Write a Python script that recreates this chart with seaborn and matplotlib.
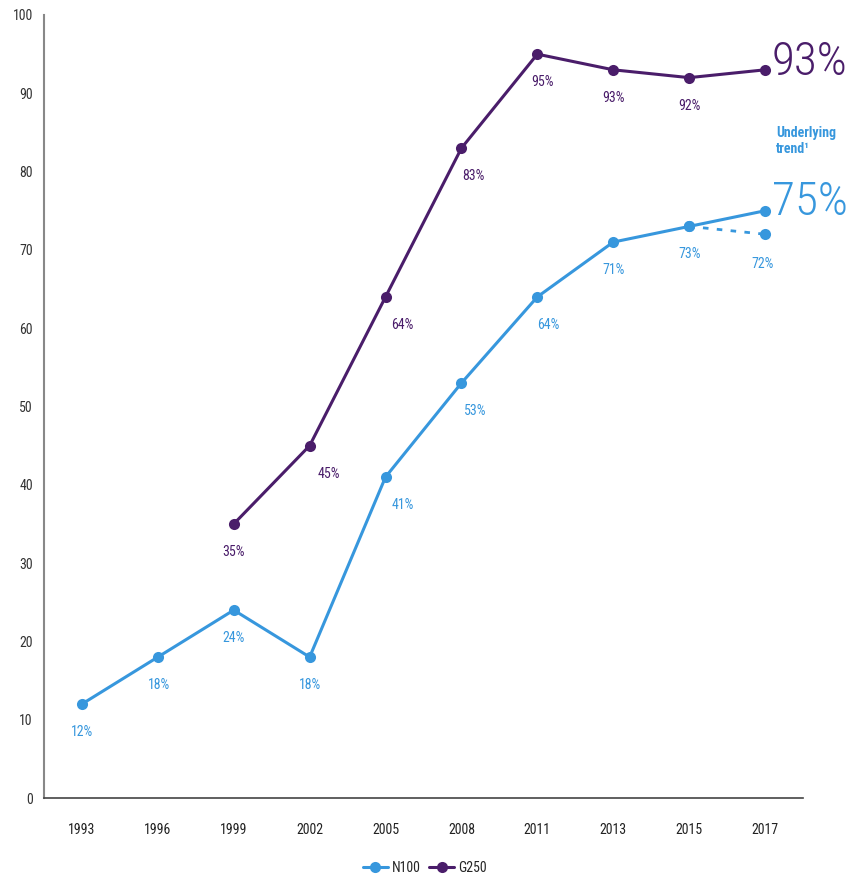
import matplotlib
matplotlib.use("Agg")
import matplotlib.pyplot as plt
from matplotlib import font_manager
import seaborn as sns
import pandas as pd

# ---- data ----
years = ["1993", "1996", "1999", "2002", "2005", "2008", "2011", "2013", "2015", "2017"]
n100 = [12, 18, 24, 18, 41, 53, 64, 71, 73, 75]          # underlying trend in 2017
n100_labels = ["12%", "18%", "24%", "18%", "41%", "53%", "64%", "71%", "73%", None]
n100_reported_years = ["2015", "2017"]
n100_reported = [73, 72]
g250_years = ["1999", "2002", "2005", "2008", "2011", "2013", "2015", "2017"]
g250 = [35, 45, 64, 83, 95, 93, 92, 93]
g250_labels = ["35%", "45%", "64%", "83%", "95%", "93%", "92%", None]
yticks = [0, 10, 20, 30, 40, 50, 60, 70, 80, 90, 100]

BLUE = "#3797dd"
PURPLE = "#4a1d6a"

sns.set_style("white")

# choose the narrowest available family
names = {f.name for f in font_manager.fontManager.ttflist}
narrow = None
for cand in ["Liberation Sans Narrow", "Roboto Condensed", "Open Sans Condensed",
             "Noto Sans Condensed", "DejaVu Sans Condensed", "Arial Narrow"]:
    if cand in names:
        narrow = cand
        break
stretch = "normal"
if narrow is None:
    cond = [f for f in font_manager.fontManager.ttflist
            if str(f.stretch) in ("condensed", "semi-condensed", "extra-condensed", "ultra-condensed")
            or (isinstance(f.stretch, int) and f.stretch < 500)]
    if cond:
        narrow = cond[0].name
        stretch = cond[0].stretch
    else:
        narrow = "Liberation Sans"
plt.rcParams["font.family"] = [narrow, "Liberation Sans", "DejaVu Sans"]
plt.rcParams["font.stretch"] = stretch

pos = {y: i for i, y in enumerate(years)}
df = pd.concat([
    pd.DataFrame({"x": [pos[y] for y in years], "v": n100, "series": "N100"}),
    pd.DataFrame({"x": [pos[y] for y in g250_years], "v": g250, "series": "G250"}),
], ignore_index=True)
df_rep = pd.DataFrame({"x": [pos[y] for y in n100_reported_years], "v": n100_reported})

fig = plt.figure(figsize=(8.5, 8.82), dpi=100)
ax = fig.add_axes([44 / 850, 84 / 882, (803 - 44) / 850, (867 - 84) / 882])

sns.lineplot(data=df_rep, x="x", y="v", ax=ax, color=BLUE, linestyle=(0, (2, 3)),
             linewidth=2, marker="o", markersize=8, markeredgewidth=0, legend=False)
sns.lineplot(data=df, x="x", y="v", hue="series", palette={"N100": BLUE, "G250": PURPLE},
             ax=ax, linewidth=2.2, marker="o", markersize=8, markeredgewidth=0, sort=False)

# point labels
n100_dx = [0, 1, 0, 0, 17, 14, 11, 0, 0, -2]
g250_dx = [0, 19, 17, 12, 5, 0, 0, 0]
for i, (y, lab) in enumerate(zip(years, n100_labels)):
    if lab:
        ax.annotate(lab, (pos[y], n100[i]), xytext=(n100_dx[i] * 0.72, -28 * 0.72),
                    textcoords="offset points", ha="center", va="center",
                    color=BLUE, fontsize=10)
ax.annotate("72%", (pos["2017"], n100_reported[1]), xytext=(-2 * 0.72, -30 * 0.72),
            textcoords="offset points", ha="center", va="center", color=BLUE, fontsize=10)
for i, (y, lab) in enumerate(zip(g250_years, g250_labels)):
    if lab:
        ax.annotate(lab, (pos[y], g250[i]), xytext=(g250_dx[i] * 0.72, -28 * 0.72),
                    textcoords="offset points", ha="center", va="center",
                    color=PURPLE, fontsize=10)

# axes styling
ax.set_xlim(-0.5, len(years) - 0.5)
ax.set_ylim(0, 100)
ax.set_yticks(yticks)
ax.set_yticklabels([str(t) for t in yticks], fontsize=10, color="#333333")
ax.set_xticks([i - 0.5 for i in range(len(years) + 1)])
ax.set_xticklabels([])
ax.set_xticks(range(len(years)), minor=True)
ax.set_xticklabels(years, minor=True, fontsize=10, color="#222222")
ax.tick_params(axis="x", which="major", direction="out", length=7, width=1, color="#444444")
ax.tick_params(axis="x", which="minor", length=0, pad=18)
ax.tick_params(axis="y", direction="out", length=5, width=1, color="#888888", pad=3)
ax.set_xlabel("")
ax.set_ylabel("")
for s in ["top", "right"]:
    ax.spines[s].set_visible(False)
ax.spines["left"].set_color("#888888")
ax.spines["left"].set_linewidth(1.5)
ax.spines["bottom"].set_color("#444444")
ax.spines["bottom"].set_linewidth(1.2)

sns.move_legend(ax, "center", bbox_to_anchor=(0.5, (882 - 868) / 882),
                bbox_transform=fig.transFigure, ncol=2, frameon=False, title=None,
                fontsize=10, handlelength=1.8, columnspacing=0.6, handletextpad=0.3)

# right-side callouts (font size fitted to the available width)
renderer = fig.canvas.get_renderer()


def fitted(x_px, y_px, s, color, width_px, start=60):
    t = fig.text(x_px / 850, 1 - y_px / 882, s, color=color, fontsize=start,
                 ha="left", va="center", fontweight="light")
    w = t.get_window_extent(renderer).width
    t.set_fontsize(start * width_px / w)
    return t


fitted(772, 62, "93%", PURPLE, 76)
fig.text(776 / 850, 1 - 141 / 882, "Underlying\ntrend\u00b9", color=BLUE, fontsize=10,
         fontweight="bold", ha="left", va="center", linespacing=1.15)
fitted(772, 202, "75%", BLUE, 76)

fig.savefig("out.png", dpi=100)
